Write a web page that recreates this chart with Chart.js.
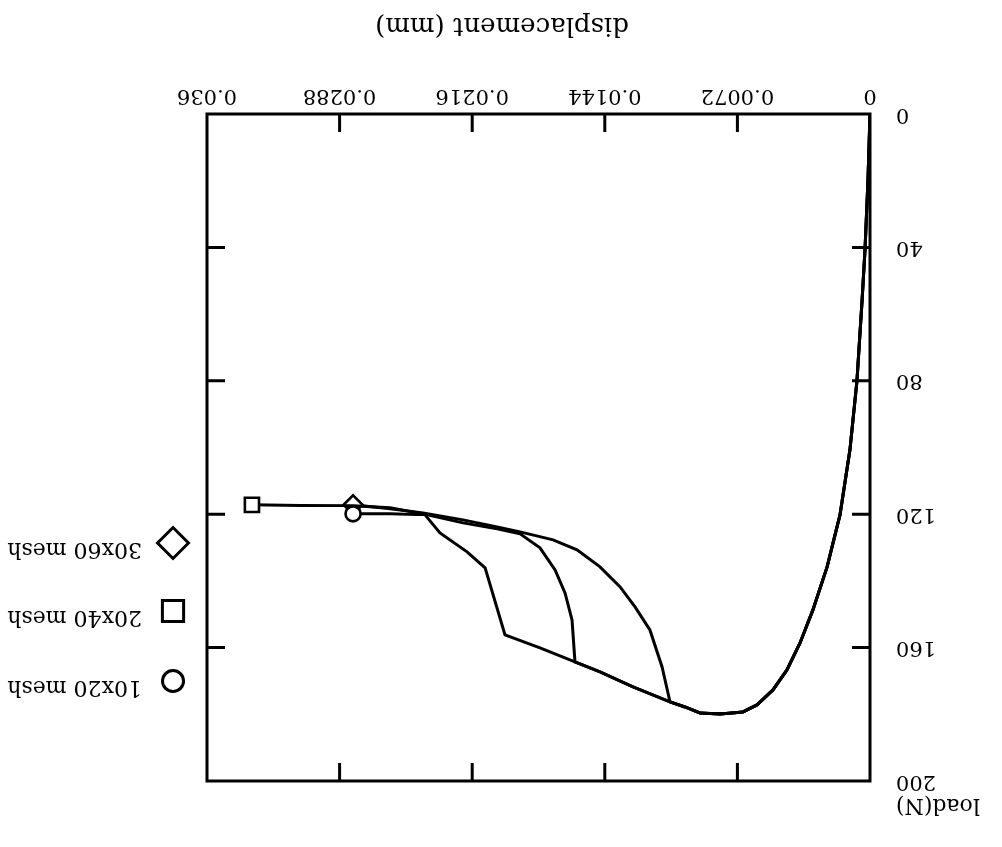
<!DOCTYPE html>
<html><head><meta charset="utf-8">
<script src="https://cdn.jsdelivr.net/npm/chart.js@4.4.1/dist/chart.umd.min.js"></script>
<style>
html,body{margin:0;padding:0;background:#fff;overflow:hidden}
#wrap{width:1002px;height:847px;transform:rotate(180deg);transform-origin:50% 50%}
canvas{display:block}
</style></head><body>
<div id="wrap"><canvas id="c" width="1002" height="847"></canvas></div>
<script>
// ---- data ----
const seriesNames = ['10x20 mesh', '20x40 mesh', '30x60 mesh'];
const seriesStyles = ['circle', 'rect', 'rectRot'];

// loading path shared by all three meshes
const sharedDisp = [0, 0.00011, 0.00027, 0.00043, 0.00071, 0.00109, 0.00163, 0.00233, 0.00310, 0.00380, 0.00451, 0.00527, 0.00614, 0.00690, 0.00814, 0.00923, 0.01005, 0.01086];
const sharedLoad = [0, 19.8, 40.5, 55.8, 80.1, 100.7, 120.2, 135.8, 148.7, 158.6, 166.7, 172.7, 177.2, 179.3, 179.9, 179.6, 177.8, 176.3];

// 10x20 mesh tail
const mesh10Disp = [0.01287, 0.01466, 0.01602, 0.01792, 0.01982, 0.02090, 0.02188, 0.02335, 0.02416, 0.02606, 0.02807];
const mesh10Load = [171.8, 167.3, 164.3, 160.1, 156.2, 136.1, 131.3, 125.6, 120.2, 119.9, 119.9];

// 20x40 mesh tail
const mesh20Disp = [0.01287, 0.01466, 0.01602, 0.01618, 0.01656, 0.01710, 0.01792, 0.01900, 0.02025, 0.02210, 0.02427, 0.02606, 0.02807, 0.03095, 0.03356];
const mesh20Load = [171.8, 167.3, 164.3, 151.7, 143.6, 136.7, 130.1, 125.9, 124.4, 122.6, 119.9, 118.1, 117.5, 117.4, 117.2];

// 30x60 mesh tail
const mesh30Disp = [0.01129, 0.01195, 0.01276, 0.01357, 0.01466, 0.01591, 0.01721, 0.01900, 0.02025, 0.02210, 0.02427, 0.02606, 0.02807];
const mesh30Load = [165.8, 154.7, 147.8, 141.8, 135.8, 130.7, 127.7, 125.3, 123.8, 121.7, 119.6, 118.4, 117.2];

const xTickValues = [0, 0.0072, 0.0144, 0.0216, 0.0288, 0.036];
const xTickLabels = ['0', '0.0072', '0.0144', '0.0216', '0.0288', '0.036'];
const yTickValues = [0, 40, 80, 120, 160, 200];
const yTickLabels = ['0', '40', '80', '120', '160', '200'];
const xTitle = 'displacement (mm)';
const yTitle = 'load(N)';

// ---- build ----
function pts(dx, ly) { return dx.map((d, i) => ({x: d, y: ly[i]})); }
const tails = [[mesh10Disp, mesh10Load], [mesh20Disp, mesh20Load], [mesh30Disp, mesh30Load]];
const datasets = tails.map((t, k) => {
  const data = pts(sharedDisp, sharedLoad).concat(pts(t[0], t[1]));
  const radii = data.map((p, i) => i === data.length - 1 ? (k === 0 ? 7.5 : (k === 1 ? 10 : 9.5)) : 0);
  return {
    label: seriesNames[k],
    data: data,
    borderColor: '#000',
    borderWidth: 3,
    tension: 0,
    fill: false,
    pointStyle: seriesStyles[k],
    pointRadius: radii,
    pointHoverRadius: radii,
    pointBackgroundColor: '#fff',
    pointBorderColor: '#000',
    pointBorderWidth: 2.6
  };
});

const FONT = "'DejaVu Serif', 'Liberation Serif', serif";

function marker(ctx, style, x, y, r) {
  ctx.beginPath();
  if (style === 'circle') ctx.arc(x, y, r, 0, Math.PI * 2);
  else if (style === 'rect') { const s = r * Math.SQRT1_2; ctx.rect(x - s, y - s, 2 * s, 2 * s); }
  else { ctx.moveTo(x - r, y); ctx.lineTo(x, y - r); ctx.lineTo(x + r, y); ctx.lineTo(x, y + r); ctx.closePath(); }
  ctx.fillStyle = '#fff'; ctx.fill();
  ctx.strokeStyle = '#000'; ctx.stroke();
}

const decor = {
  id: 'decor',
  afterDraw(chart) {
    const ctx = chart.ctx;
    const a = chart.chartArea;
    const xs = chart.scales.x, ys = chart.scales.y;
    ctx.save();
    ctx.strokeStyle = '#000';
    ctx.lineWidth = 3;
    ctx.strokeRect(a.left, a.top, a.right - a.left, a.bottom - a.top);
    const TL = 18;
    xTickValues.slice(1, -1).forEach(v => {
      const px = xs.getPixelForValue(v);
      ctx.beginPath();
      ctx.moveTo(px, a.bottom); ctx.lineTo(px, a.bottom - TL);
      ctx.moveTo(px, a.top); ctx.lineTo(px, a.top + TL);
      ctx.stroke();
    });
    yTickValues.slice(1, -1).forEach(v => {
      const py = ys.getPixelForValue(v);
      ctx.beginPath();
      ctx.moveTo(a.left, py); ctx.lineTo(a.left + TL, py);
      ctx.moveTo(a.right, py); ctx.lineTo(a.right - TL, py);
      ctx.stroke();
    });
    // axis titles
    ctx.fillStyle = '#000';
    ctx.textBaseline = 'middle';
    ctx.font = '26px ' + FONT;
    ctx.textAlign = 'center';
    ctx.fillText(xTitle, 500, 822);
    ctx.font = '22px ' + FONT;
    ctx.textAlign = 'right';
    ctx.fillText(yTitle, 106, 42);
    // legend
    const legY = [166, 236, 304];
    const legR = [10.5, 15, 15.5];
    ctx.lineWidth = 3;
    seriesNames.forEach((n, k) => {
      marker(ctx, seriesStyles[k], 829, legY[k], legR[k]);
      ctx.fillStyle = '#000';
      ctx.font = '22px ' + FONT;
      ctx.textAlign = 'left';
      ctx.textBaseline = 'middle';
      ctx.fillText(n, 860, legY[k] - 6);
    });
    ctx.restore();
  }
};

new Chart(document.getElementById('c'), {
  type: 'line',
  data: { datasets: datasets },
  options: {
    responsive: false,
    animation: false,
    events: [],
    layout: { padding: { left: 0, top: 66, right: 207, bottom: 0 } },
    plugins: { legend: { display: false }, tooltip: { enabled: false } },
    scales: {
      x: {
        type: 'linear', min: 0, max: 0.036,
        grid: { display: false, drawTicks: false },
        border: { display: false },
        afterBuildTicks: s => { s.ticks = xTickValues.map(v => ({value: v})); },
        afterFit: s => { s.height = 114; },
        ticks: {
          autoSkip: false, maxRotation: 0, padding: 6, color: '#000',
          font: { family: FONT, size: 21 },
          callback: (v, i) => xTickLabels[i]
        }
      },
      y: {
        type: 'linear', min: 0, max: 200,
        grid: { display: false, drawTicks: false },
        border: { display: false },
        afterBuildTicks: s => { s.ticks = yTickValues.map(v => ({value: v})); },
        afterFit: s => { s.width = 132; },
        ticks: {
          autoSkip: false, padding: 26, color: '#000',
          font: { family: FONT, size: 21 },
          callback: (v, i) => yTickLabels[i]
        }
      }
    }
  },
  plugins: [decor]
});
</script>
</body></html>
